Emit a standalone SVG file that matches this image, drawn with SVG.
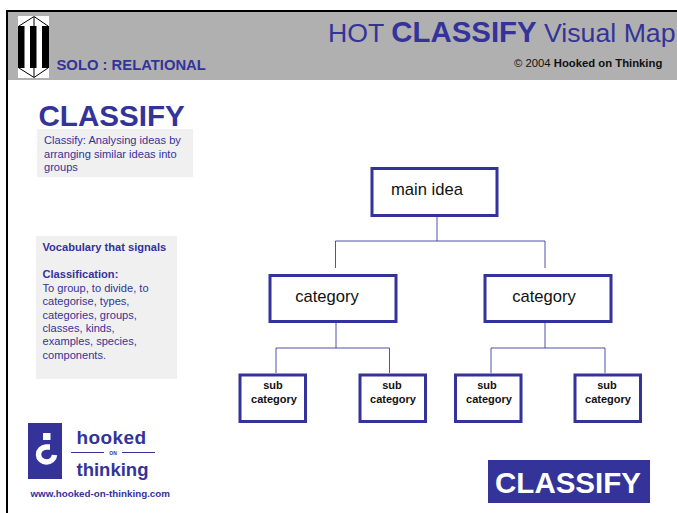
<svg xmlns="http://www.w3.org/2000/svg" width="677" height="513" viewBox="0 0 677 513">
<style>
text{font-family:"Liberation Sans",Arial,sans-serif}
.b{fill:#333399}
.bold{font-weight:bold}
.box{fill:#fff;stroke:#333399;stroke-width:3}
.panel{fill:#f0f0f0}
.k{fill:#111;font-weight:bold;font-size:11px;text-anchor:middle}
.n{fill:#111;font-size:16.600px;text-anchor:middle}
.s{font-size:11.100px}
.conn{fill:none;stroke:#333399;stroke-width:1;opacity:.85}
</style>
<rect width="677" height="513" fill="#fff"/>
<g id="header">
<rect x="8" y="12" width="669" height="68" fill="#b0b0b0"/>
<rect x="8" y="10" width="669" height="2" fill="#000"/>
<rect x="6" y="10" width="2" height="503" fill="#000"/>
<rect x="18" y="16" width="31" height="62" fill="#fff"/>
<rect x="18" y="26" width="6.500" height="42" fill="#000"/>
<rect x="30" y="26" width="6.500" height="42" fill="#000"/>
<rect x="42" y="26" width="7" height="42" fill="#000"/>
<path d="M19 26L34 16.500L48 26M19 68L34 77.500L48 68M34 17V77" fill="none" stroke="#000" stroke-width="1"/>
<text class="b bold" x="56.500" y="70" font-size="14.800px">SOLO : RELATIONAL</text>
<text class="b" x="328" y="42" font-size="26.700px">HOT <tspan class="bold" font-size="29.400px">CLASSIFY</tspan> Visual Map</text>
<text x="514" y="67" font-size="11.300px" fill="#111">© 2004 <tspan class="bold">Hooked on Thinking</tspan></text>
</g>
<g id="intro">
<text class="b bold" x="38.500" y="126" font-size="29.600px">CLASSIFY</text>
<rect class="panel" x="37" y="129" width="156" height="48"/>
<text class="b s" x="44" y="144">Classify: Analysing ideas by</text>
<text class="b s" x="44" y="157.500">arranging similar ideas into</text>
<text class="b s" x="44" y="171">groups</text>
</g>
<g id="vocabulary">
<rect class="panel" x="36" y="236" width="141" height="143"/>
<text class="b s bold" x="42.500" y="251">Vocabulary that signals</text>
<text class="b s bold" x="42.500" y="278">Classification:</text>
<text class="b s" x="42.500" y="292">To group, to divide, to</text>
<text class="b s" x="42.500" y="305">categorise, types,</text>
<text class="b s" x="42.500" y="318.500">categories, groups,</text>
<text class="b s" x="42.500" y="332">classes, kinds,</text>
<text class="b s" x="42.500" y="345">examples, species,</text>
<text class="b s" x="42.500" y="359">components.</text>
</g>
<g id="connectors">
<path class="conn" d="M437 216V241M335.500 268V241H545V268"/>
<path class="conn" d="M336 322V348M276 373V348H389.500V373"/>
<path class="conn" d="M545 322V348M491 373V348H605V373"/>
</g>
<g id="main-idea"><rect class="box" x="372" y="168.500" width="125" height="47"/><text class="n" x="427" y="195">main idea</text></g>
<g id="category-left"><rect class="box" x="270" y="275.500" width="126" height="46"/><text class="n" x="327" y="302">category</text></g>
<g id="category-right"><rect class="box" x="485" y="275.500" width="126" height="46"/><text class="n" x="544" y="302">category</text></g>
<g id="sub-1"><rect class="box" x="240" y="375" width="65.500" height="46.500"/><text class="k" x="273" y="389">sub</text><text class="k" x="274" y="403">category</text></g>
<g id="sub-2"><rect class="box" x="360" y="375" width="65.500" height="46.500"/><text class="k" x="392" y="389">sub</text><text class="k" x="393" y="403">category</text></g>
<g id="sub-3"><rect class="box" x="455.500" y="375" width="65.500" height="46.500"/><text class="k" x="487" y="389">sub</text><text class="k" x="489" y="403">category</text></g>
<g id="sub-4"><rect class="box" x="575" y="375" width="65.500" height="46.500"/><text class="k" x="607" y="389">sub</text><text class="k" x="608" y="403">category</text></g>
<g id="logo">
<rect x="28" y="423" width="34" height="56" fill="#333399"/>
<rect x="43" y="433" width="7.500" height="7" fill="#fff"/>
<path d="M50 447H46A8 7.500 0 1 0 54.500 455" fill="none" stroke="#fff" stroke-width="5.500"/>
<text class="b bold" x="76.500" y="444" font-size="19px" letter-spacing=".4">hooked</text>
<path d="M71 452.500H104M122 452.500H155" stroke="#333399" stroke-width="1.200"/>
<text class="b bold" x="113" y="455" font-size="5px" text-anchor="middle">ON</text>
<text class="b bold" x="76.500" y="476" font-size="18.500px">thinking</text>
<text class="b bold" x="30.500" y="497" font-size="9.800px">www.hooked-on-thinking.com</text>
</g>
<g id="badge">
<rect x="488" y="460" width="162" height="43" fill="#333399"/>
<text x="568" y="493" font-size="29.500px" font-weight="bold" fill="#fff" text-anchor="middle">CLASSIFY</text>
</g>
</svg>
